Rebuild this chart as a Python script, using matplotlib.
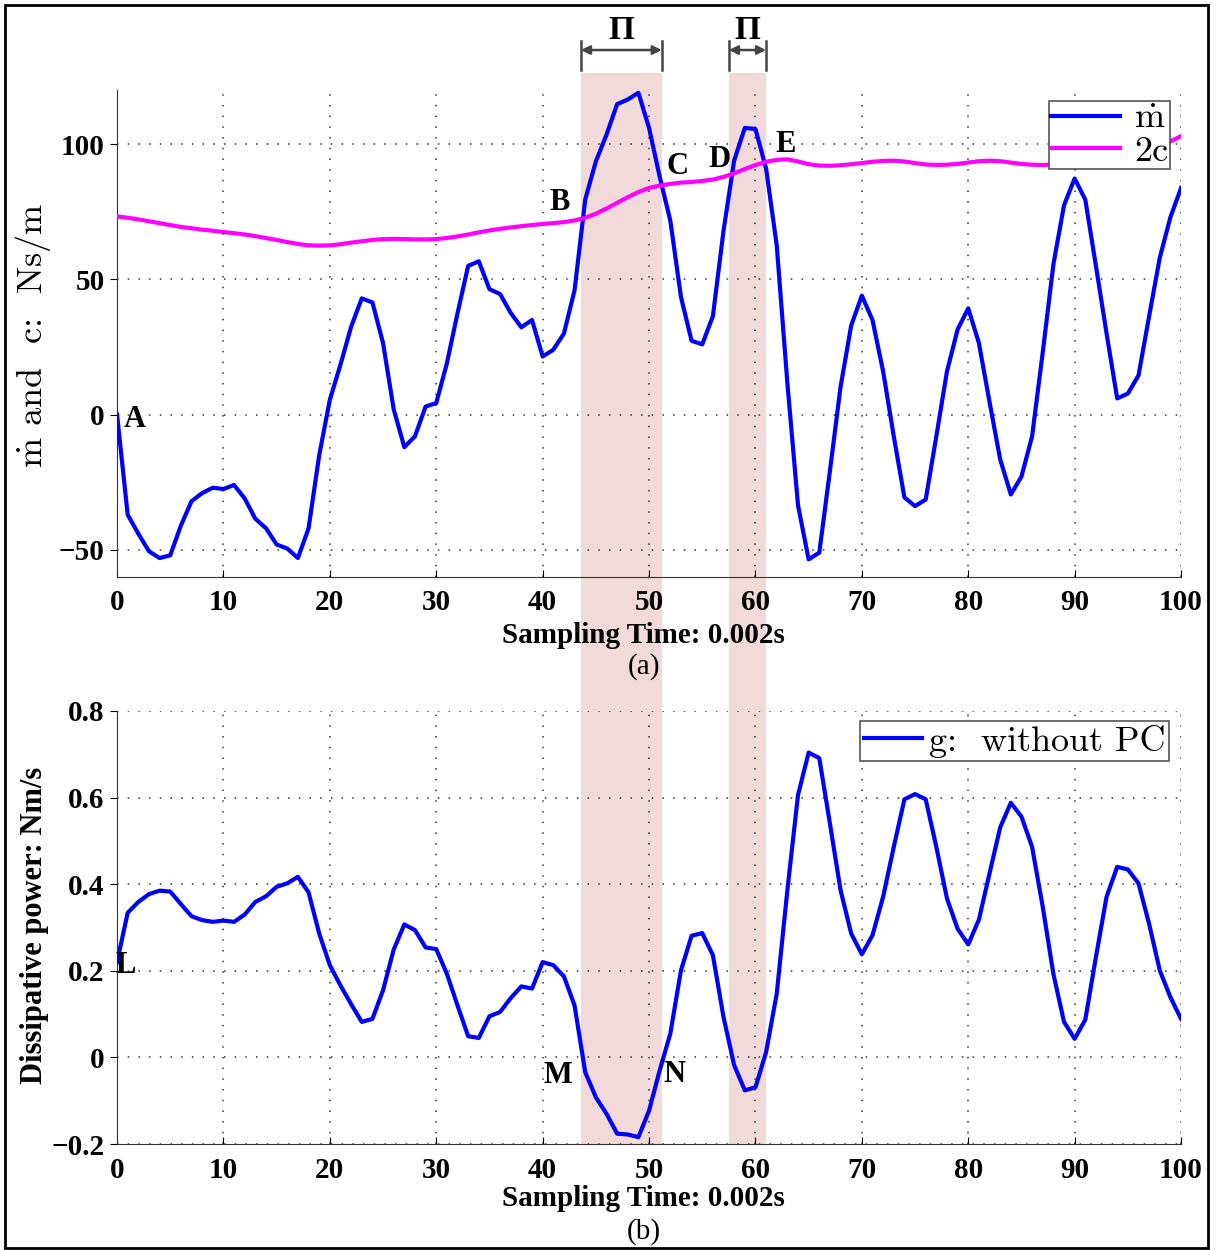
import numpy as np
import matplotlib
matplotlib.use("Agg")
import matplotlib.pyplot as plt
from matplotlib.patches import Rectangle
from matplotlib.lines import Line2D
from matplotlib.transforms import blended_transform_factory

plt.rcParams['font.family'] = ['Liberation Serif', 'DejaVu Serif']
plt.rcParams['axes.unicode_minus'] = True
plt.rcParams['mathtext.fontset'] = 'cm'

# Datos
sample = np.arange(101)
m_dot = [0, -37, -44, -50.5, -53, -52, -41, -32, -29, -27,
         -27.5, -26, -31, -38.5, -42, -48, -49.5, -53, -42, -15,
         5.5, 18.5, 32.5, 43, 41.5, 26.5, 2, -12, -8, 3,
         4.3, 19, 37.5, 55, 56.7, 46.4, 44.6, 37.6, 32.3, 35,
         21.5, 24, 30, 46, 79.5, 93.6, 103.5, 114.8, 116.5, 119,
         106, 88, 71.7, 43.5, 27.3, 26, 36.4, 68, 94, 106,
         105.6, 91, 62.6, 11.7, -33.5, -53.5, -51, -20.8, 10.3, 33,
         44, 35, 16, -8, -30.6, -33.8, -31.4, -8, 16, 31.5,
         39.3, 26.5, 4.7, -16.5, -29.5, -22.9, -8, 23, 55.5, 77.4,
         87.3, 79.5, 55, 30, 6, 7.8, 14.5, 36.4, 58, 73,
         83.8]
two_c = [73.3, 72.8, 72.2, 71.5, 70.8, 70.1, 69.4, 68.9, 68.4, 68.0,
         67.5, 67.1, 66.6, 66.0, 65.3, 64.6, 63.8, 63.1, 62.6, 62.5,
         62.6, 63.0, 63.6, 64.1, 64.6, 64.9, 65.0, 64.9, 64.8, 64.8,
         64.9, 65.3, 65.9, 66.6, 67.4, 68.1, 68.7, 69.2, 69.7, 70.1,
         70.5, 70.8, 71.2, 71.8, 72.8, 74.3, 76.2, 78.3, 80.4, 82.3,
         83.8, 84.7, 85.3, 85.8, 86.0, 86.4, 86.9, 87.9, 89.2, 90.8,
         92.3, 93.5, 94.2, 94.4, 93.6, 92.6, 92.1, 92.0, 92.2, 92.6,
         93.0, 93.5, 93.8, 93.9, 93.6, 93.0, 92.5, 92.3, 92.4, 92.7,
         93.2, 93.7, 93.9, 93.7, 93.2, 92.7, 92.4, 92.3, 92.5, 93.0,
         93.5, 94.0, 94.5, 95.0, 96.0, 97.0, 98.0, 99.0, 100.0, 101.0,
         103.0]
g_power = [0.220, 0.334, 0.359, 0.377, 0.385, 0.383, 0.354, 0.326, 0.317, 0.313,
           0.316, 0.313, 0.330, 0.359, 0.372, 0.394, 0.402, 0.417, 0.381, 0.286,
           0.213, 0.166, 0.123, 0.082, 0.089, 0.155, 0.249, 0.307, 0.294, 0.254,
           0.250, 0.193, 0.120, 0.049, 0.045, 0.095, 0.105, 0.137, 0.164, 0.159,
           0.220, 0.213, 0.187, 0.120, -0.034, -0.092, -0.130, -0.176, -0.178, -0.184,
           -0.123, -0.030, 0.055, 0.201, 0.281, 0.287, 0.236, 0.093, -0.018, -0.076,
           -0.069, 0.012, 0.147, 0.386, 0.606, 0.704, 0.691, 0.540, 0.386, 0.286,
           0.238, 0.282, 0.371, 0.486, 0.596, 0.608, 0.596, 0.486, 0.367, 0.297,
           0.261, 0.318, 0.425, 0.531, 0.588, 0.556, 0.486, 0.348, 0.193, 0.082,
           0.043, 0.087, 0.232, 0.371, 0.440, 0.434, 0.402, 0.308, 0.201, 0.139,
           0.089]

bands = [(43.6, 51.2), (57.5, 61.0)]
top_marks = {'A': (1.7, -1.8), 'B': (41.6, 78.6), 'C': (52.7, 91.8),
             'D': (56.6, 94.3), 'E': (62.8, 99.8)}
bot_marks = {'L': (0.85, 0.212), 'M': (41.4, -0.042), 'N': (52.4, -0.040)}

band_color = '#f2dada'

fig = plt.figure(figsize=(12.23, 12.51), dpi=100)
ax1 = fig.add_axes([0.0957, 0.5388, 0.87, 0.3892])
ax2 = fig.add_axes([0.0957, 0.0855, 0.87, 0.3462])

for ax in (ax1, ax2):
    for x0, x1 in bands:
        ax.axvspan(x0, x1, color=band_color, lw=0, zorder=0)
    ax.set_xlim(0, 100)
    ax.set_xticks(range(0, 101, 10))
    ax.grid(True, linestyle=(0, (1, 6)), color='#333333', linewidth=1.1)
    ax.spines['top'].set_visible(False)
    ax.spines['right'].set_visible(False)
    ax.spines['left'].set_color('#333333')
    ax.spines['bottom'].set_color('#333333')
    ax.tick_params(axis='x', direction='in', length=5, labelsize=21, pad=9)
    ax.tick_params(axis='y', direction='out', length=5, labelsize=21, pad=4)
    for lab in ax.get_xticklabels():
        lab.set_fontweight('bold')

# Bandas entre los ejes
trans_band = blended_transform_factory(ax1.transData, fig.transFigure)
for x0, x1 in bands:
    fig.add_artist(Rectangle((x0, 0.0855), x1 - x0, 0.9416 - 0.0855,
                             transform=trans_band, color=band_color, lw=0, zorder=-1))
    # corchete con flecha y etiqueta
    ax1.annotate('', xy=(x0, 0.960), xytext=(x1, 0.960), xycoords=trans_band,
                 textcoords=trans_band,
                 arrowprops=dict(arrowstyle='<|-|>', color='#444444', lw=1.8,
                                 shrinkA=0, shrinkB=0, mutation_scale=13))
    for xe in (x0, x1):
        fig.add_artist(Line2D([xe, xe], [0.944, 0.967], transform=trans_band,
                              color='#444444', lw=1.8))
    fig.text((x0 + x1) / 2, 0.976, 'Π', transform=trans_band, fontsize=24,
             fontweight='bold', ha='center', va='center')

# Gráfico superior
l1, = ax1.plot(sample, m_dot, color='#0000ff', lw=3, zorder=3)
l2, = ax1.plot(sample, two_c, color='#ff00ff', lw=3, zorder=3)
ax1.set_ylim(-60, 120)
ax1.set_yticks([-50, 0, 50, 100])
ax1.set_yticklabels(['\u221250', '0', '50', '100'], fontweight='bold')
ax1.set_ylabel(r'$\dot{\mathrm{m}}$ and  c:  Ns/m', fontsize=26, va='center',
               fontfamily='cmr10')
ax1.yaxis.set_label_coords(-0.079, 0.497)
for k, (xx, yy) in top_marks.items():
    ax1.text(xx, yy, k, fontsize=22, fontweight='bold', ha='center', va='center', zorder=4)
ax1.text(0.495, -0.121, 'Sampling Time: 0.002s', transform=ax1.transAxes,
         fontsize=21, fontweight='bold', ha='center', va='center')
ax1.text(0.495, -0.183, '(a)', transform=ax1.transAxes, fontsize=21,
         ha='center', va='center')
leg1 = ax1.legend([l1, l2], [r'$\dot{\mathrm{m}}$', '2c'], loc='upper right',
                  bbox_to_anchor=(0.9897, 0.977), borderaxespad=0,
                  prop={'family': 'cmr10', 'size': 26},
                  fancybox=False, framealpha=1, edgecolor='#555555',
                  handlelength=1.9, handletextpad=0.4, labelspacing=0.0,
                  borderpad=0.05)
leg1.get_frame().set_linewidth(1.2)

# Gráfico inferior
l3, = ax2.plot(sample, g_power, color='#0000ff', lw=3, zorder=3)
ax2.set_ylim(-0.2, 0.8)
ax2.set_yticks([-0.2, 0, 0.2, 0.4, 0.6, 0.8])
ax2.set_yticklabels(['\u22120.2', '0', '0.2', '0.4', '0.6', '0.8'], fontweight='bold')
ax2.set_ylabel('Dissipative power: Nm/s', fontsize=22, fontweight='bold', va='center')
ax2.yaxis.set_label_coords(-0.078, 0.506)
for k, (xx, yy) in bot_marks.items():
    ax2.text(xx, yy, k, fontsize=22, fontweight='bold', ha='center', va='center', zorder=4)
ax2.text(0.495, -0.125, 'Sampling Time: 0.002s', transform=ax2.transAxes,
         fontsize=21, fontweight='bold', ha='center', va='center')
ax2.text(0.495, -0.203, '(b)', transform=ax2.transAxes, fontsize=21,
         ha='center', va='center')
leg2 = ax2.legend([l3], ['g:  without PC'], loc='upper right',
                  bbox_to_anchor=(0.9887, 0.977), borderaxespad=0,
                  prop={'family': 'cmr10', 'size': 26},
                  fancybox=False, framealpha=1, edgecolor='#555555',
                  handlelength=1.6, handletextpad=0.2, borderpad=0.1)
leg2.get_frame().set_linewidth(1.2)

# Marco exterior
fig.add_artist(Rectangle((0.004, 0.0024), 0.9836, 0.9936, transform=fig.transFigure,
                         fill=False, edgecolor='black', lw=2, zorder=10))

fig.savefig('out.png', dpi=100)
